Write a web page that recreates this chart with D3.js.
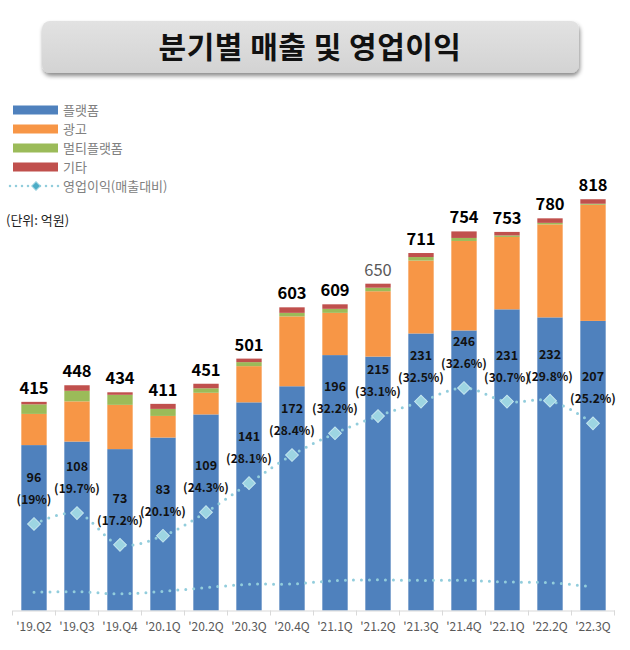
<!DOCTYPE html>
<html>
<head>
<meta charset="utf-8">
<script src="https://cdn.jsdelivr.net/npm/d3@7"></script>
<style>
  body { margin: 0; background: #fff; }
  text { font-family: "Noto Sans CJK KR", "Noto Sans", sans-serif; }
</style>
</head>
<body>
<div id="chart"></div>
<script>
const quarters = ["'19.Q2", "'19.Q3", "'19.Q4", "'20.1Q", "'20.2Q", "'20.3Q", "'20.4Q", "'21.1Q", "'21.2Q", "'21.3Q", "'21.4Q", "'22.1Q", "'22.2Q", "'22.3Q"];
const platform = [329, 336, 321, 344, 390, 414, 446, 508, 505, 551, 557, 599, 583, 576];
const ads = [62, 80, 88, 43, 43, 72, 139, 84, 130, 145, 178, 144, 185, 231];
const multi = [19, 21, 20, 14, 9, 8, 7, 8, 7, 7, 6, 3, 3, 2];
const etc = [5, 11, 5, 10, 9, 7, 11, 9, 8, 8, 13, 7, 9, 9];
const totals = [415, 448, 434, 411, 451, 501, 603, 609, 650, 711, 754, 753, 780, 818];
const opIncome = [96, 108, 73, 83, 109, 141, 172, 196, 215, 231, 246, 231, 232, 207];
const opMargin = [19, 19.7, 17.2, 20.1, 24.3, 28.1, 28.4, 32.2, 33.1, 32.5, 32.6, 30.7, 29.8, 25.2];
const seriesNames = ["플랫폼", "광고", "멀티플랫폼", "기타"];
const lineName = "영업이익(매출대비)";

const colors = ["#4f81bd", "#f79646", "#9bbb59", "#c0504d"];
const lineColor = "#92cddc";
const width = 630, height = 650;

const svg = d3.select("#chart").append("svg")
  .attr("width", width)
  .attr("height", height);

// title box
const defs = svg.append("defs");
const grad = defs.append("linearGradient").attr("id", "tg").attr("x1", 0).attr("y1", 0).attr("x2", 0).attr("y2", 1);
grad.append("stop").attr("offset", "0%").attr("stop-color", "#e2e2e2");
grad.append("stop").attr("offset", "100%").attr("stop-color", "#d3d3d3");
const sh = defs.append("filter").attr("id", "sh").attr("x", "-5%").attr("y", "-20%").attr("width", "110%").attr("height", "160%");
sh.append("feDropShadow").attr("dx", 1).attr("dy", 3).attr("stdDeviation", 2).attr("flood-color", "#000").attr("flood-opacity", 0.45);

svg.append("rect")
  .attr("x", 42).attr("y", 21).attr("width", 537).attr("height", 52).attr("rx", 8)
  .attr("fill", "url(#tg)")
  .attr("filter", "url(#sh)");
svg.append("text")
  .attr("x", 310).attr("y", 58)
  .attr("text-anchor", "middle")
  .attr("font-size", 30).attr("font-weight", 700).attr("fill", "#111")
  .attr("letter-spacing", 0.5)
  .text("분기별 매출 및 영업이익");

// scales
const x = d3.scaleBand().domain(quarters).range([12.5, 614.5]).paddingInner(0.41).paddingOuter(0.205);
const y = d3.scaleLinear().domain([0, 900]).range([610.5, 158]);
const yOp = d3.scaleLinear().domain([0, 450]).range([611, 203]);
const yPct = d3.scaleLinear().domain([0, 100]).range([609, 521]);

const table = quarters.map((q, i) => ({q: q, platform: platform[i], ads: ads[i], multi: multi[i], etc: etc[i]}));
const stack = d3.stack().keys(["platform", "ads", "multi", "etc"])(table);

svg.append("g").selectAll("g")
  .data(stack)
  .join("g")
  .attr("fill", (d, i) => colors[i])
  .selectAll("rect")
  .data(d => d)
  .join("rect")
  .attr("x", d => x(d.data.q))
  .attr("width", x.bandwidth())
  .attr("y", d => y(d[1]))
  .attr("height", d => y(d[0]) - y(d[1]));

// x axis
const xAxis = d3.axisBottom(x).tickSizeInner(0).tickSizeOuter(0).tickPadding(12);
const ax = svg.append("g")
  .attr("transform", "translate(0," + 610.5 + ")")
  .call(xAxis);
ax.select(".domain").attr("stroke", "#d9d9d9");
ax.selectAll(".tick text")
  .attr("font-family", "'Open Sans', 'Noto Sans', sans-serif")
  .attr("font-size", 12)
  .attr("fill", "#595959");
const step = x.step();
ax.selectAll("line.sep")
  .data(d3.range(quarters.length + 1))
  .join("line")
  .attr("class", "sep")
  .attr("x1", i => 12.5 + i * step).attr("x2", i => 12.5 + i * step)
  .attr("y1", 0).attr("y2", 5)
  .attr("stroke", "#d9d9d9");

// dotted lines
const cx = (d, i) => x(quarters[i]) + x.bandwidth() / 2;
const pctLine = d3.line().x(cx).y(d => yPct(d)).curve(d3.curveCatmullRom);
svg.append("path")
  .datum(opMargin)
  .attr("d", pctLine)
  .attr("fill", "none")
  .attr("stroke", lineColor)
  .attr("stroke-width", 3)
  .attr("stroke-linecap", "round")
  .attr("stroke-dasharray", "0 8");

const opLine = d3.line().x(cx).y(d => yOp(d)).curve(d3.curveCatmullRom);
svg.append("path")
  .datum(opIncome)
  .attr("d", opLine)
  .attr("fill", "none")
  .attr("stroke", lineColor)
  .attr("stroke-width", 3)
  .attr("stroke-linecap", "round")
  .attr("stroke-dasharray", "0 8");

svg.append("g").selectAll("rect")
  .data(opIncome)
  .join("rect")
  .attr("x", -4.5).attr("y", -4.5).attr("width", 9).attr("height", 9)
  .attr("transform", (d, i) => "translate(" + cx(d, i) + "," + yOp(d) + ") rotate(45)")
  .attr("fill", "#9dd5e2")
  .attr("stroke", "#c4e6ef")
  .attr("stroke-width", 1);

// labels
const labels = svg.append("g").attr("font-weight", 700).attr("text-anchor", "middle");
labels.selectAll("text.num")
  .data(opIncome)
  .join("text")
  .attr("class", "num")
  .attr("x", cx)
  .attr("y", d => yOp(d) - 42)
  .attr("font-size", 12.5)
  .attr("fill", "#111")
  .text(d => d);
labels.selectAll("text.pct")
  .data(opMargin)
  .join("text")
  .attr("class", "pct")
  .attr("x", cx)
  .attr("y", (d, i) => yOp(opIncome[i]) - 20)
  .attr("font-size", 12)
  .attr("fill", "#111")
  .text(d => "(" + d + "%)");
labels.selectAll("text.tot")
  .data(totals)
  .join("text")
  .attr("class", "tot")
  .attr("x", cx)
  .attr("y", d => y(d) - 8)
  .attr("font-size", 16.5)
  .attr("fill", (d, i) => i === 8 ? "#595959" : "#000")
  .attr("font-weight", (d, i) => i === 8 ? 400 : 700)
  .text(d => d);

// legend
const legend = svg.append("g");
seriesNames.forEach((name, i) => {
  const ly = 110 + i * 19;
  legend.append("rect")
    .attr("x", 13).attr("y", ly - 4.5).attr("width", 45).attr("height", 9)
    .attr("fill", colors[i]);
  legend.append("text")
    .attr("x", 63).attr("y", ly + 4.5)
    .attr("font-size", 13).attr("fill", "#808080")
    .text(name);
});
const lly = 186;
legend.append("line")
  .attr("x1", 10).attr("x2", 60).attr("y1", lly).attr("y2", lly)
  .attr("stroke", lineColor).attr("stroke-width", 2.5)
  .attr("stroke-linecap", "round").attr("stroke-dasharray", "0 6");
legend.append("rect")
  .attr("x", -3).attr("y", -3).attr("width", 6).attr("height", 6)
  .attr("transform", "translate(36," + lly + ") rotate(45)")
  .attr("fill", "#4bacc6").attr("stroke", "#92cddc");
legend.append("text")
  .attr("x", 63).attr("y", lly + 4.5)
  .attr("font-size", 13).attr("fill", "#808080")
  .text(lineName);

svg.append("text")
  .attr("x", 6).attr("y", 225)
  .attr("font-size", 13).attr("fill", "#222")
  .text("(단위: 억원)");
</script>
</body>
</html>
